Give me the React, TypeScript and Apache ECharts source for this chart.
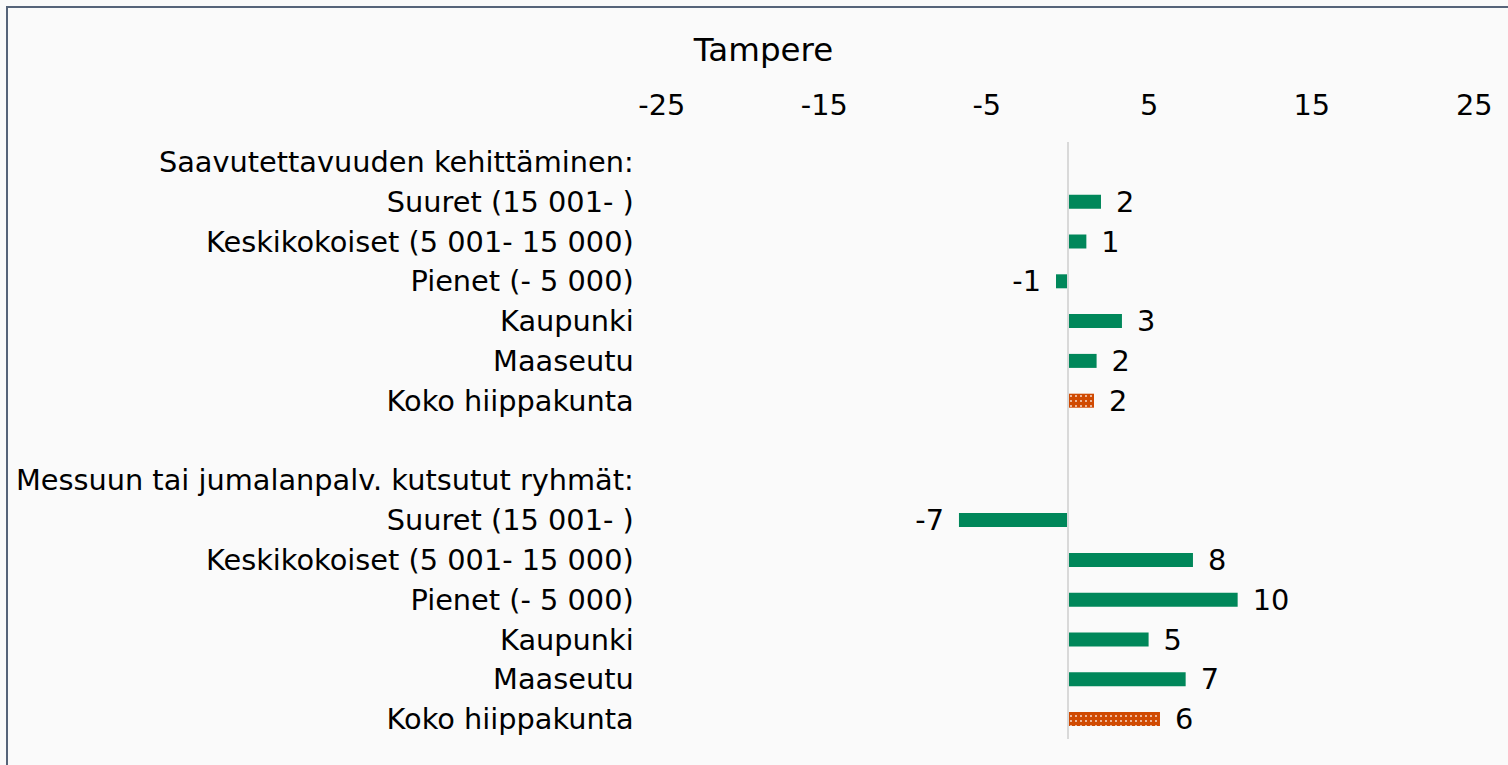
import React, { useEffect, useRef } from "react";
import * as echarts from "echarts";

const titleText = "Tampere";
const categories = [
  "Saavutettavuuden kehittäminen:",
  "Suuret (15 001- )",
  "Keskikokoiset (5 001- 15 000)",
  "Pienet (- 5 000)",
  "Kaupunki",
  "Maaseutu",
  "Koko hiippakunta",
  "",
  "Messuun tai jumalanpalv. kutsutut ryhmät:",
  "Suuret (15 001- )",
  "Keskikokoiset (5 001- 15 000)",
  "Pienet (- 5 000)",
  "Kaupunki",
  "Maaseutu",
  "Koko hiippakunta",
];
const accessValues = [2.03, 1.13, -0.74, 3.32, 1.76, 1.6];
const worshipValues = [-6.71, 7.69, 10.44, 4.96, 7.24, 5.66];
const axisMin = -25;
const axisMax = 25;

const GREEN = "#00875a";
const ORANGE = "#d04a02";
const FONT = "DejaVu Sans";
const FS = 28.8;

export default function App() {
  const ref = useRef<HTMLDivElement>(null);
  useEffect(() => {
    if (!ref.current) return;
    const chart = echarts.init(ref.current, null, { renderer: "svg" });
    const raw: (number | null)[] = [null, ...accessValues, null, null, ...worshipValues];
    const totalIdx = [6, 14];
    const data = raw.map((v, i) => {
      if (v === null) return "-";
      const isTotal = totalIdx.includes(i);
      return {
        value: v,
        itemStyle: isTotal
          ? {
              color: ORANGE,
              decal: {
                symbol: "rect",
                symbolSize: 0.8,
                color: "#ffffff",
                dashArrayX: [2, 3],
                dashArrayY: [2, 3],
                rotation: 0,
              },
            }
          : { color: GREEN },
        label: { position: v < 0 ? "left" : "right" },
      };
    });
    chart.setOption({
      animation: false,
      backgroundColor: "#fafafa",
      textStyle: { fontFamily: FONT },
      graphic: [
        {
          type: "rect",
          shape: { x: 7, y: 7, width: 1700, height: 900 },
          style: { fill: "none", stroke: "#566479", lineWidth: 2 },
          silent: true,
        },
        {
          type: "text",
          x: 763.5,
          y: 50,
          style: {
            text: titleText,
            align: "center",
            verticalAlign: "middle",
            fontSize: 32.5,
            fontFamily: FONT,
            fill: "#000000",
          },
        },
      ],
      grid: { left: 661.75, right: 33.75, top: 142, bottom: 26, containLabel: false },
      xAxis: {
        type: "value",
        position: "top",
        min: axisMin,
        max: axisMax,
        interval: 5,
        axisLine: { show: false },
        axisTick: { show: false },
        splitLine: { show: false },
        axisLabel: {
          margin: 23,
          fontSize: FS,
          fontFamily: FONT,
          color: "#000000",
          formatter: (v: number) => (Math.abs(v % 10) === 5 ? String(v) : ""),
        },
      },
      yAxis: {
        type: "category",
        inverse: true,
        data: categories,
        axisLine: { show: false },
        axisTick: { show: false },
        splitLine: { show: false },
        axisLabel: {
          margin: 28,
          fontSize: FS,
          fontFamily: FONT,
          color: "#000000",
          interval: 0,
        },
      },
      series: [
        {
          type: "bar",
          data,
          barWidth: 14,
          label: {
            show: true,
            distance: 15,
            fontSize: FS,
            fontFamily: FONT,
            color: "#000000",
            formatter: (p: any) => String(Math.round(p.value)),
          },
          markLine: {
            silent: true,
            symbol: "none",
            label: { show: false },
            lineStyle: { color: "#d9d9d9", width: 2, type: "solid" },
            data: [{ xAxis: 0 }],
          },
        },
      ],
    });
    return () => chart.dispose();
  }, []);
  return (
    <div
      ref={ref}
      style={{ position: "fixed", left: 0, top: 0, width: 1508, height: 765 }}
    />
  );
}
